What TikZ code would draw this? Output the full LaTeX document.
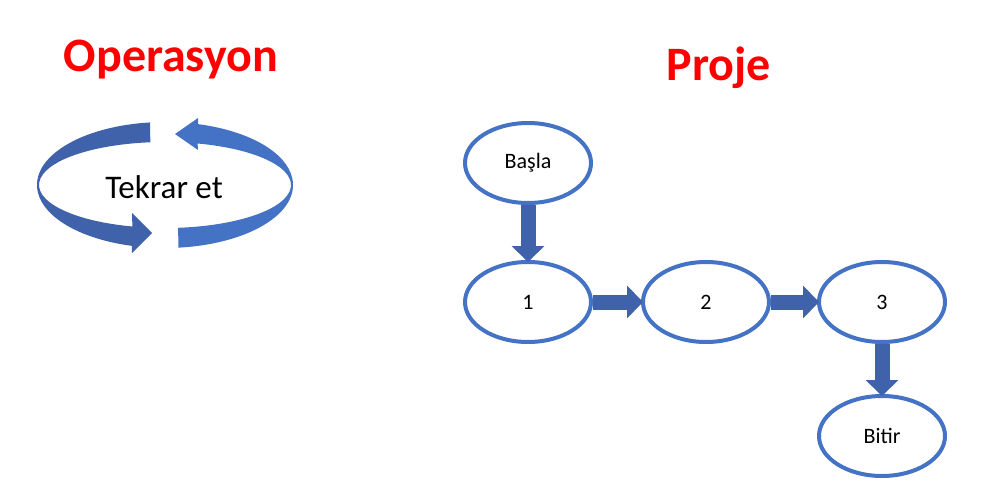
\documentclass[tikz,border=0pt]{standalone}
\usepackage{fontspec}
\setmainfont{Carlito}
\usetikzlibrary{arrows.meta,shapes.geometric}
\definecolor{bl}{RGB}{68,114,196}
\definecolor{db}{RGB}{63,98,170}
\begin{document}
\begin{tikzpicture}[x=1pt,y=-1pt,
  st/.style={ellipse,draw=bl,line width=4pt,minimum width=126pt,minimum height=80pt,font=\fontsize{22}{26}\selectfont},
  ba/.style={draw=db,line width=15pt,-{Triangle[width=32pt,length=16pt]},shorten >=-2pt},
  ttl/.style={text=red,font=\fontsize{48}{54}\selectfont\bfseries}]
\useasboundingbox (0,0) rectangle (1000,500);
\node[ttl] (op) at (171,60) {Operasyon};
\node[ttl] (pr) at (719,68) {Proje};
% circular arrows
\fill[db] (165,185) ++(263.3:128 and 63) arc[start angle=263.3,end angle=105,x radius=128,y radius=63]
  -- (132,253) -- (152,233) -- (132,213) -- (132.4,226.5)
  arc[start angle=105,end angle=263.3,x radius=126,y radius=43] -- cycle;
\fill[bl] (165,185) ++(84:128 and 63) arc[start angle=84,end angle=-75,x radius=128,y radius=63]
  -- (198,118) -- (175,134) -- (198,150) -- (197.6,143.5)
  arc[start angle=-75,end angle=84,x radius=126,y radius=43] -- cycle;
\node[font=\fontsize{33}{38}\selectfont] (tk) at (164,187) {Tekrar et};
% project
\node[st] (b) at (528,163) {Başla};
\node[st] (n1) at (528,302) {1};
\node[st] (n2) at (706,302) {2};
\node[st] (n3) at (882,302) {3};
\node[st] (e) at (882,436) {Bitir};
\draw[ba] (b.south) -- (n1.north);
\draw[ba] (n1.east) -- (n2.west);
\draw[ba] (n2.east) -- (n3.west);
\draw[ba] (n3.south) -- (e.north);
\end{tikzpicture}
\end{document}
